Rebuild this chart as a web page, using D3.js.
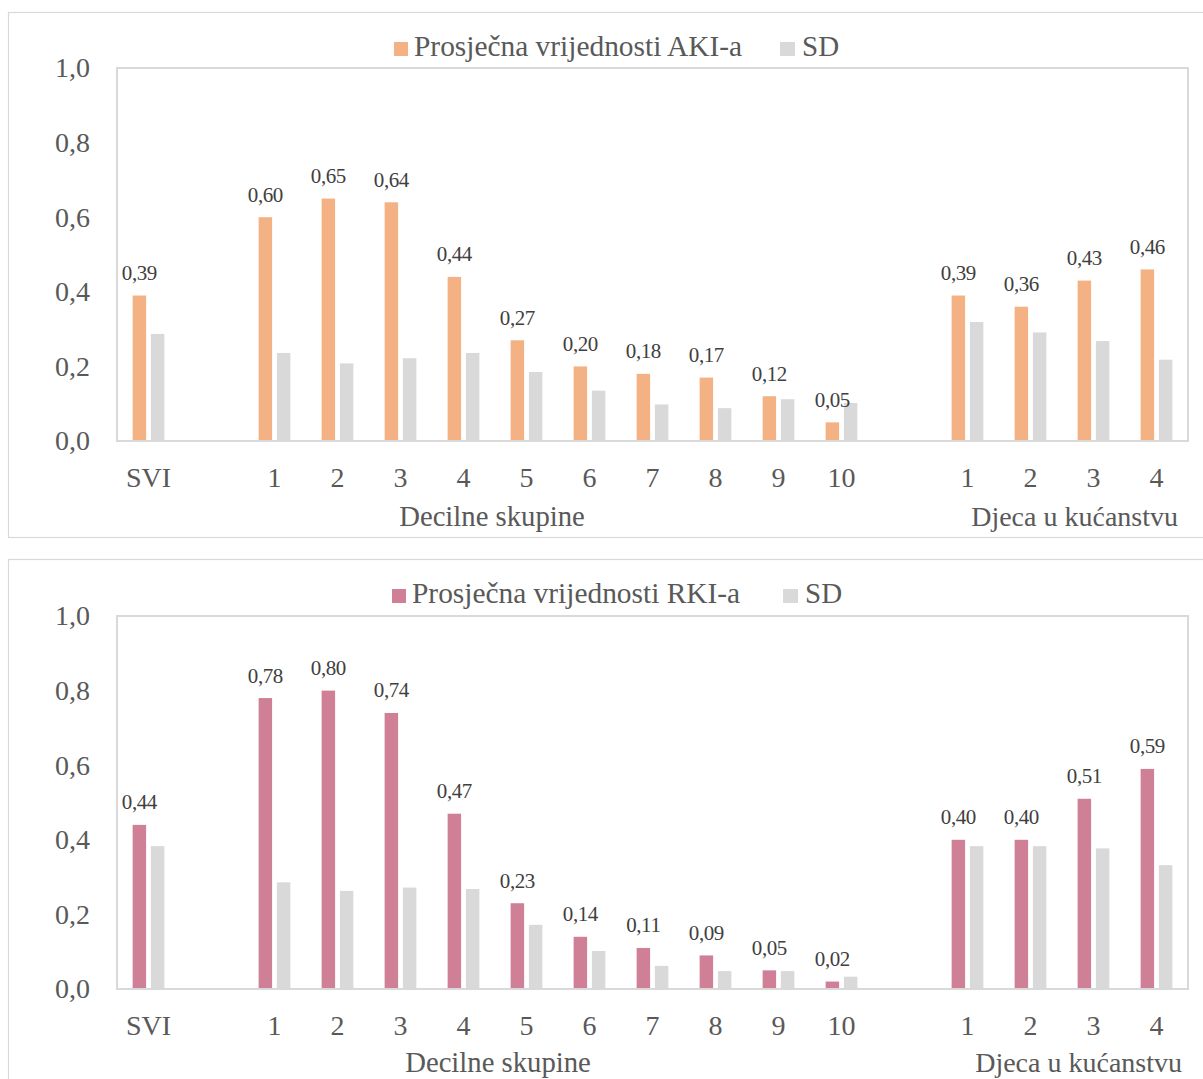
<!DOCTYPE html>
<html>
<head>
<meta charset="utf-8">
<script src="https://cdn.jsdelivr.net/npm/d3@7"></script>
<style>
  html, body { margin: 0; padding: 0; background: #fff; }
  svg { display: block; font-family: "Liberation Serif", "Times New Roman", serif; }
</style>
</head>
<body>
<svg id="chart" width="1203" height="1079"></svg>
<script>
// ---- DATA ----
const categories = ["SVI", "", "1", "2", "3", "4", "5", "6", "7", "8", "9", "10", "", "1", "2", "3", "4"];
const groupLabels = ["Decilne skupine", "Djeca u kućanstvu"];
const yTicks = [0, 0.2, 0.4, 0.6, 0.8, 1.0];

const akiMean = [0.39, null, 0.60, 0.65, 0.64, 0.44, 0.27, 0.20, 0.18, 0.17, 0.12, 0.05, null, 0.39, 0.36, 0.43, 0.46];
const akiSD   = [0.287, null, 0.236, 0.208, 0.222, 0.236, 0.185, 0.135, 0.098, 0.088, 0.112, 0.102, null, 0.319, 0.291, 0.268, 0.218];
const rkiMean = [0.44, null, 0.78, 0.80, 0.74, 0.47, 0.23, 0.14, 0.11, 0.09, 0.05, 0.02, null, 0.40, 0.40, 0.51, 0.59];
const rkiSD   = [0.383, null, 0.286, 0.263, 0.272, 0.268, 0.172, 0.102, 0.062, 0.048, 0.048, 0.033, null, 0.383, 0.383, 0.377, 0.332];

const seriesNames = ["mean", "sd"];

const svg = d3.select("#chart");
const comma = v => d3.format(".2f")(v).replace(".", ",");
const comma1 = v => d3.format(".1f")(v).replace(".", ",");

function drawPanel(cfg) {
  const g = svg.append("g");
  // outer frame
  g.append("rect")
    .attr("x", cfg.frame.x + 0.5).attr("y", cfg.frame.y + 0.5)
    .attr("width", cfg.frame.w).attr("height", cfg.frame.h)
    .attr("fill", "none").attr("stroke", "#D9D9D9").attr("stroke-width", 1.2);

  const x = d3.scaleBand().domain(d3.range(categories.length))
    .range([cfg.left, cfg.right]).padding(0);
  const step = x.bandwidth();
  const xs = d3.scaleBand().domain(seriesNames)
    .range([step * 0.248, step * 0.752]).paddingInner(0.262).paddingOuter(0);
  const y = d3.scaleLinear().domain([0, 1]).range([cfg.bottom, cfg.top]);

  // plot border
  g.append("rect")
    .attr("x", cfg.left).attr("y", cfg.top)
    .attr("width", cfg.right - cfg.left).attr("height", cfg.bottom - cfg.top)
    .attr("fill", "none").attr("stroke", "#D9D9D9").attr("stroke-width", 2);

  // y axis
  const ya = g.append("g").attr("transform", `translate(${cfg.left},0)`)
    .call(d3.axisLeft(y).tickValues(yTicks).tickFormat(comma1).tickSize(0).tickPadding(27));
  ya.select(".domain").remove();
  ya.selectAll("text").attr("font-size", 28).attr("fill", "#595959")
    .attr("font-family", "Liberation Serif, Times New Roman, serif");

  // x axis
  const xa = g.append("g").attr("transform", `translate(0,${cfg.bottom})`)
    .call(d3.axisBottom(x).tickFormat(i => categories[i]).tickSize(0).tickPadding(26));
  xa.select(".domain").remove();
  xa.selectAll("text").attr("font-size", 28).attr("fill", "#595959")
    .attr("font-family", "Liberation Serif, Times New Roman, serif");

  const idx = d3.range(categories.length).filter(i => cfg.mean[i] != null);

  // bars
  g.append("g").selectAll("rect").data(idx).join("rect")
    .attr("x", i => x(i) + xs("mean"))
    .attr("y", i => y(cfg.mean[i]))
    .attr("width", xs.bandwidth())
    .attr("height", i => y(0) - y(cfg.mean[i]))
    .attr("fill", cfg.color);
  g.append("g").selectAll("rect").data(idx).join("rect")
    .attr("x", i => x(i) + xs("sd"))
    .attr("y", i => y(cfg.sd[i]))
    .attr("width", xs.bandwidth())
    .attr("height", i => y(0) - y(cfg.sd[i]))
    .attr("fill", "#D9D9D9");

  // redraw baseline on top
  g.append("line").attr("x1", cfg.left).attr("x2", cfg.right)
    .attr("y1", cfg.bottom).attr("y2", cfg.bottom)
    .attr("stroke", "#D9D9D9").attr("stroke-width", 2);

  // data labels
  g.append("g").selectAll("text").data(idx).join("text")
    .attr("x", i => x(i) + xs("mean") + xs.bandwidth() / 2)
    .attr("y", i => y(cfg.mean[i]) - 15.5)
    .attr("text-anchor", "middle")
    .attr("font-size", 21).attr("letter-spacing", "-0.4px")
    .attr("fill", "#404040")
    .text(i => comma(cfg.mean[i]));

  // group labels
  g.append("text").attr("x", cfg.group1X).attr("y", cfg.groupY)
    .attr("text-anchor", "middle").attr("font-size", 28.7).attr("fill", "#595959")
    .text(groupLabels[0]);
  g.append("text").attr("x", cfg.group2X).attr("y", cfg.groupY)
    .attr("text-anchor", "end").attr("font-size", 28).attr("fill", "#595959")
    .text(groupLabels[1]);

  // legend
  const lg = g.append("g");
  lg.append("rect").attr("x", cfg.leg1X).attr("y", cfg.legY - 14)
    .attr("width", 14).attr("height", 14).attr("fill", cfg.color);
  lg.append("text").attr("x", cfg.leg1X + 20).attr("y", cfg.legY)
    .attr("font-size", 29.4).attr("fill", "#595959").text(cfg.legendText);
  lg.append("rect").attr("x", cfg.leg2X).attr("y", cfg.legY - 14)
    .attr("width", 15).attr("height", 14).attr("fill", "#D9D9D9");
  lg.append("text").attr("x", cfg.leg2X + 22).attr("y", cfg.legY)
    .attr("font-size", 29).attr("fill", "#595959").text("SD");
}

drawPanel({
  frame: { x: 8, y: 12, w: 1200, h: 525 },
  left: 117, right: 1188, top: 68, bottom: 441,
  mean: akiMean, sd: akiSD, color: "#F4B183",
  legendText: "Prosječna vrijednosti AKI-a",
  leg1X: 394, leg2X: 780, legY: 56,
  group1X: 492, group2X: 1178, groupY: 526
});

drawPanel({
  frame: { x: 8, y: 559, w: 1200, h: 530 },
  left: 117, right: 1188, top: 616, bottom: 989,
  mean: rkiMean, sd: rkiSD, color: "#D08096",
  legendText: "Prosječna vrijednosti RKI-a",
  leg1X: 392, leg2X: 783, legY: 603,
  group1X: 498, group2X: 1182, groupY: 1072
});
</script>
</body>
</html>
